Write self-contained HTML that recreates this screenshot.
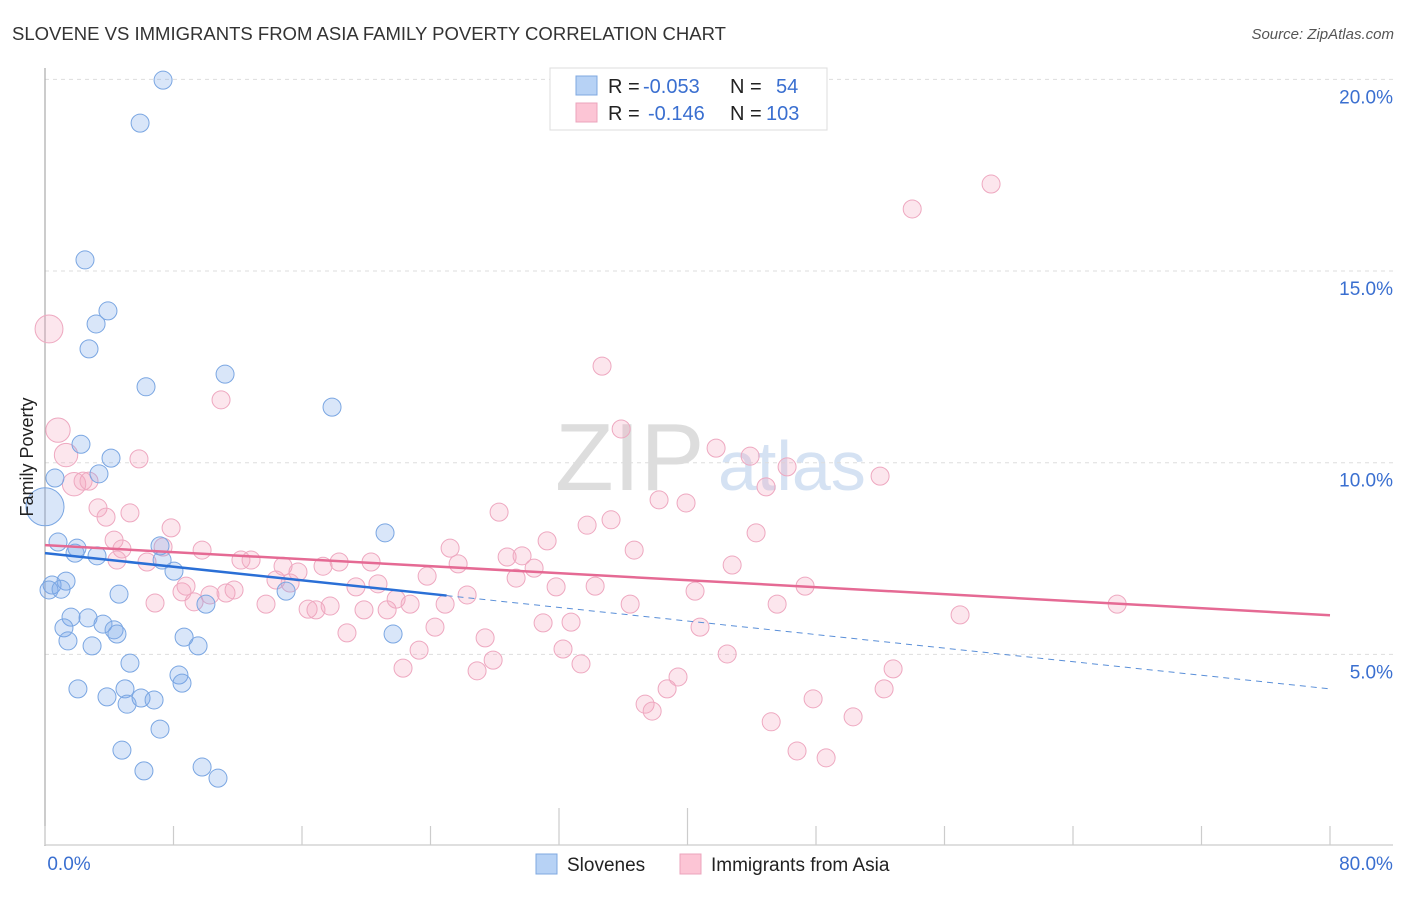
<!DOCTYPE html>
<html><head><meta charset="utf-8"><style>
body{margin:0;background:#fff;font-family:"Liberation Sans",sans-serif;}
svg text{font-family:"Liberation Sans",sans-serif;}
</style></head><body>
<svg id="chart" width="1406" height="892" xmlns="http://www.w3.org/2000/svg">
<text x="12" y="40" font-size="18" fill="#333" textLength="714" lengthAdjust="spacingAndGlyphs">SLOVENE VS IMMIGRANTS FROM ASIA FAMILY POVERTY CORRELATION CHART</text>
<text x="1394" y="39" font-size="15" fill="#555" font-style="italic" text-anchor="end">Source: ZipAtlas.com</text>
<g><text x="555" y="490" font-size="96" fill="#ddd" font-family="Liberation Serif">ZIP</text><text x="718" y="490" font-size="70" fill="#d5e2f3">atlas</text></g>
<g id="grid"></g>
<g id="axes"></g>
<g id="pts"></g>
<g id="trends"></g>
<text x="33" y="457" font-size="18" fill="#222" text-anchor="middle" transform="rotate(-90 33 457)">Family Poverty</text>
<g>
<rect x="550" y="68" width="277" height="62" fill="#fff" stroke="#ddd"/>
<rect x="576" y="76" width="21" height="19" fill="#b7d2f5" stroke="#7fa8e0"/>
<rect x="576" y="103" width="21" height="19" fill="#fcc5d5" stroke="#eba4bc"/>
<text y="93" font-size="20"><tspan x="608" fill="#222">R = </tspan><tspan x="643" fill="#3a6fd0">-0.053</tspan><tspan x="730" fill="#222">N = </tspan><tspan x="776" fill="#3a6fd0">54</tspan></text>
<text y="120" font-size="20"><tspan x="608" fill="#222">R = </tspan><tspan x="648" fill="#3a6fd0">-0.146</tspan><tspan x="730" fill="#222">N = </tspan><tspan x="766" fill="#3a6fd0">103</tspan></text>
</g>
<g>
<rect x="536" y="854" width="21" height="20" fill="#b7d2f5" stroke="#7fa8e0"/>
<text x="567" y="871" font-size="19" fill="#222">Slovenes</text>
<rect x="680" y="854" width="21" height="20" fill="#fcc5d5" stroke="#eba4bc"/>
<text x="711" y="871" font-size="19" fill="#222">Immigrants from Asia</text>
</g>
</svg>
<script>
const yTicks=[5,10,15,20];
const yTickLabels=["5.0%","10.0%","15.0%","20.0%"];
const xTicks=[0,8,16,24,32,40,48,56,64,72,80];
const xEndLabels=["0.0%","80.0%"];
const sloveneX=[7.35,5.92,2.49,3.92,3.18,2.74,6.29,11.21,17.87,2.24,4.11,3.36,0.62,0.0,0.81,1.87,1.99,3.24,7.29,8.03,7.16,0.44,1.31,0.25,1.0,4.61,10.02,15.01,21.17,1.62,2.68,3.61,4.30,4.48,1.18,1.43,2.93,8.66,9.53,5.29,21.67,2.05,8.34,8.53,3.86,4.98,5.98,6.79,5.11,7.16,4.79,6.16,9.78,10.77];
const sloveneY=[19.98,18.86,15.29,13.96,13.62,12.97,11.98,12.31,11.45,10.48,10.12,9.71,9.60,8.85,7.93,7.64,7.77,7.57,7.46,7.17,7.83,6.81,6.91,6.68,6.70,6.57,6.31,6.65,8.17,5.97,5.95,5.79,5.64,5.53,5.69,5.35,5.22,5.45,5.22,4.77,5.53,4.10,4.46,4.25,3.89,4.10,3.86,3.81,3.70,3.05,2.50,1.96,2.06,1.77];
const asiaX=[0.25,0.81,1.31,1.81,2.37,2.74,3.30,3.80,5.29,5.85,10.96,4.30,4.79,7.85,4.48,7.35,6.35,6.85,8.53,8.78,9.28,9.78,10.27,11.27,11.77,12.20,12.83,13.76,14.38,14.82,15.26,15.75,16.38,16.87,17.31,17.75,18.31,18.80,19.36,19.86,20.30,20.73,21.30,21.86,22.29,22.73,23.29,23.79,24.28,24.91,25.22,25.72,26.28,26.90,27.40,27.90,28.27,28.77,29.33,29.70,30.45,31.01,31.26,31.82,32.25,32.75,33.37,33.75,34.25,34.68,35.24,35.87,36.43,36.68,37.36,37.80,38.23,38.73,39.41,39.91,40.47,40.78,41.78,42.47,42.78,43.90,44.27,44.89,45.21,45.58,46.20,46.82,47.32,47.82,48.63,50.31,51.99,52.24,52.80,53.99,56.97,58.90,66.75];
const asiaY=[13.49,10.85,10.20,9.44,9.52,9.52,8.82,8.58,8.69,10.10,11.64,7.98,7.75,8.30,7.46,7.80,7.41,6.34,6.63,6.78,6.37,7.72,6.55,6.60,6.68,7.46,7.46,6.31,6.94,7.30,6.86,7.15,6.18,6.16,7.30,6.26,7.41,5.56,6.76,6.16,7.41,6.84,6.16,6.44,4.64,6.31,5.11,7.04,5.71,6.31,7.77,7.36,6.55,4.57,5.43,4.85,8.71,7.54,6.99,7.57,7.25,5.82,7.96,6.76,5.14,5.84,4.75,8.37,6.78,12.52,8.51,10.88,6.31,7.72,3.70,3.52,9.03,4.10,4.41,8.95,6.65,5.71,10.38,5.01,7.33,10.17,8.17,9.37,3.24,6.31,9.89,2.48,6.78,3.84,2.30,3.37,9.65,4.10,4.62,16.62,6.03,17.27,6.31];
const sloveneSize=[1,1,1,1,1,1,1,1,1,1,1,1,1,2,1,1,1,1,1,1,1,1,1,1,1,1,1,1,1,1,1,1,1,1,1,1,1,1,1,1,1,1,1,1,1,1,1,1,1,1,1,1,1,1];
const asiaBig=[1.55,1.35,1.3,1.3];
const sloveneTrend=[7.64,4.10];
const asiaTrend=[7.85,6.02];
const sloveneSolidEnd=25;

const X0=45,X1=1330,Y0=846,YP=38.33;
const xs=v=>X0+v*(X1-X0)/80;
const ys=v=>Y0-v*YP;
const NS="http://www.w3.org/2000/svg";
function mk(t,a,p){const e=document.createElementNS(NS,t);for(const k in a)e.setAttribute(k,a[k]);p.appendChild(e);return e;}
const grid=document.getElementById('grid'),axes=document.getElementById('axes'),pts=document.getElementById('pts'),tr=document.getElementById('trends');
yTicks.forEach((t,i)=>{
 const l=mk('line',{x1:X0,x2:1393,y1:ys(t),y2:ys(t),stroke:'#ddd','stroke-dasharray':'4,4'},grid);
 
 
 const tx=mk('text',{x:1393,y:ys(t)+24,'font-size':19,fill:'#3a6fd0','text-anchor':'end'},grid);
 tx.textContent=yTickLabels[i];
 
 
});
const ya=mk('line',{x1:X0,x2:X0,y1:68,y2:Y0,stroke:'#aaa','stroke-width':1.2},axes);


const xa=mk('line',{x1:X0,x2:1393,y1:845,y2:845,stroke:'#ccc','stroke-width':1.2},axes);


xTicks.forEach(t=>{
 const l=mk('line',{x1:xs(t),x2:xs(t),y1:(t===40||t===32)?808:826,y2:845,stroke:'#ccc','stroke-width':1.2},axes);
 
 
});
[[X0+24,xEndLabels[0]],[1366,xEndLabels[1]]].forEach(([x,s])=>{
 const tx=mk('text',{x:x,y:870,'font-size':19,fill:'#3a6fd0','text-anchor':'middle'},axes);
 tx.textContent=s;
 
 
});
asiaX.forEach((v,i)=>{
 const r=9*(i<asiaBig.length?asiaBig[i]:1);
 const c=mk('circle',{cx:xs(v),cy:ys(asiaY[i]),r:r,fill:'rgba(246,164,192,0.28)',stroke:'#eea8c0','stroke-width':1},pts);
 
 
});
sloveneX.forEach((v,i)=>{
 const r=sloveneSize[i]===2?19:9;
 const c=mk('circle',{cx:xs(v),cy:ys(sloveneY[i]),r:r,fill:'rgba(120,165,235,0.28)',stroke:'#7aa6e2','stroke-width':1},pts);
 
 
});
const sAt=v=>sloveneTrend[0]+(sloveneTrend[1]-sloveneTrend[0])*v/80;
let l1=mk('line',{x1:xs(0),y1:ys(sAt(0)),x2:xs(sloveneSolidEnd),y2:ys(sAt(sloveneSolidEnd)),stroke:'#2a6fd6','stroke-width':2.5},tr);


let l2=mk('line',{x1:xs(sloveneSolidEnd),y1:ys(sAt(sloveneSolidEnd)),x2:xs(80),y2:ys(sAt(80)),stroke:'#5a8fd8','stroke-width':1,'stroke-dasharray':'6,5'},tr);


let l3=mk('line',{x1:xs(0),y1:ys(asiaTrend[0]),x2:xs(80),y2:ys(asiaTrend[1]),stroke:'#e56a94','stroke-width':2.5},tr);


</script>
</body></html>
